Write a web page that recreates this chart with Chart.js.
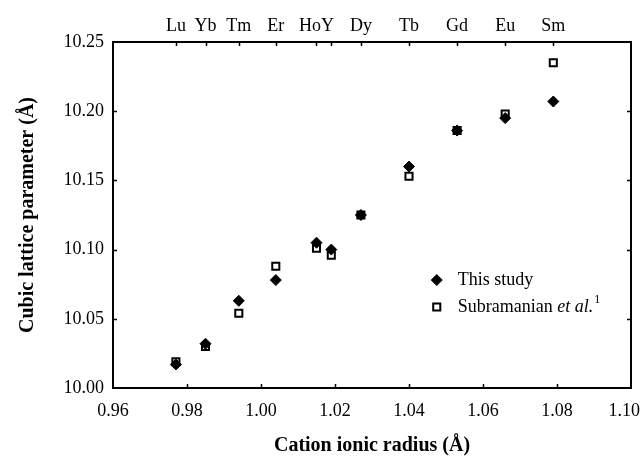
<!DOCTYPE html>
<html>
<head>
<meta charset="utf-8">
<script src="https://cdn.jsdelivr.net/npm/chart.js@4.4.0/dist/chart.umd.min.js"></script>
<style>
  html, body { margin: 0; padding: 0; background: #fff; }
  canvas { display: block; }
</style>
</head>
<body>
<canvas id="grafico" width="644" height="461"></canvas>
<script>
// cations (top axis) and their ionic radius
var ions = ["Lu", "Yb", "Tm", "Er", "Ho", "Y", "Dy", "Tb", "Gd", "Eu", "Sm"];
var ionLabels = ["Lu", "Yb", "Tm", "Er", "HoY", "", "Dy", "Tb", "Gd", "Eu", "Sm"];
var radius = [0.977, 0.985, 0.994, 1.004, 1.015, 1.019, 1.027, 1.040, 1.053, 1.066, 1.079];

// lattice parameter (A)
var thisStudy = [10.017, 10.032, 10.063, 10.078, 10.105, 10.100, 10.125, 10.160, 10.186, 10.195, 10.207];
var subramanian = [10.019, 10.030, 10.054, 10.088, 10.101, 10.096, 10.125, 10.153, 10.186, 10.198, 10.235];

var xTicks = [0.96, 0.98, 1.00, 1.02, 1.04, 1.06, 1.08, 1.10];
var yTicks = [10.00, 10.05, 10.10, 10.15, 10.20, 10.25];

var fonte = "'Liberation Serif', 'Times New Roman', serif";
Chart.defaults.font.family = fonte;
Chart.defaults.color = '#000';

function pontos(serie) {
  return radius.map(function (r, i) { return { x: r, y: serie[i] }; });
}

// small inward tick marks on the four sides
var marcas = {
  id: 'marcas',
  afterDraw: function (chart) {
    var ctx = chart.ctx, a = chart.chartArea;
    var sx = chart.scales.x, sy = chart.scales.y;
    ctx.save();
    ctx.strokeStyle = '#000';
    ctx.lineWidth = 1.5;
    ctx.beginPath();
    xTicks.slice(1, -1).forEach(function (v) {
      var px = Math.round(sx.getPixelForValue(v)) + 0.5;
      ctx.moveTo(px, a.bottom); ctx.lineTo(px, a.bottom - 4);
    });
    radius.forEach(function (v) {
      var px = Math.round(sx.getPixelForValue(v)) + 0.5;
      ctx.moveTo(px, a.top); ctx.lineTo(px, a.top + 4);
    });
    yTicks.slice(1, -1).forEach(function (v) {
      var py = Math.round(sy.getPixelForValue(v)) + 0.5;
      ctx.moveTo(a.left, py); ctx.lineTo(a.left + 4, py);
      ctx.moveTo(a.right, py); ctx.lineTo(a.right - 4, py);
    });
    ctx.stroke();
    ctx.restore();
  }
};

// legend inside the plot
var legendaX = 1.0475;
var legendaY = [10.078, 10.0585];
var legenda = {
  id: 'legenda',
  afterDraw: function (chart) {
    var ctx = chart.ctx;
    var sx = chart.scales.x, sy = chart.scales.y;
    var x = sx.getPixelForValue(legendaX);
    ctx.save();
    chart.data.datasets.forEach(function (ds, i) {
      var y = sy.getPixelForValue(legendaY[i]);
      ctx.fillStyle = ds.backgroundColor;
      ctx.strokeStyle = ds.borderColor;
      ctx.lineWidth = ds.borderWidth;
      Chart.helpers.drawPoint(ctx, {
        pointStyle: ds.pointStyle, radius: ds.pointRadius, rotation: 0, borderWidth: ds.borderWidth
      }, x, y);
      ctx.fillStyle = '#000';
      ctx.textBaseline = 'middle';
      ctx.textAlign = 'left';
      var tx = x + 21;
      if (i === 0) {
        ctx.font = "18px " + fonte;
        ctx.fillText("This study", tx, y);
      } else {
        ctx.font = "18px " + fonte;
        ctx.fillText("Subramanian ", tx, y);
        tx += ctx.measureText("Subramanian ").width;
        ctx.font = "italic 18px " + fonte;
        ctx.fillText("et al.", tx, y);
        tx += ctx.measureText("et al.").width + 1;
        ctx.font = "12px " + fonte;
        ctx.fillText("1", tx, y - 7);
      }
    });
    ctx.restore();
  }
};

new Chart(document.getElementById("grafico"), {
  type: "scatter",
  data: {
    datasets: [
      {
        label: "This study",
        data: pontos(thisStudy),
        pointStyle: "rectRot",
        pointRadius: 5.5,
        backgroundColor: "#000",
        borderColor: "#000",
        borderWidth: 1,
        order: 0
      },
      {
        label: "Subramanian et al.",
        data: pontos(subramanian),
        pointStyle: "rect",
        pointRadius: 5,
        backgroundColor: "rgba(0,0,0,0)",
        borderColor: "#000",
        borderWidth: 2,
        order: 1
      }
    ]
  },
  options: {
    responsive: false,
    animation: false,
    devicePixelRatio: 1,
    layout: { padding: 0 },
    plugins: {
      legend: { display: false },
      tooltip: { enabled: false }
    },
    scales: {
      x: {
        type: "linear",
        position: "bottom",
        min: 0.96,
        max: 1.10,
        afterBuildTicks: function (s) { s.ticks = xTicks.map(function (v) { return { value: v }; }); },
        ticks: {
          autoSkip: false, maxRotation: 0, padding: 12,
          font: { size: 18 },
          // last label pushed a little left so it stays inside the canvas
          callback: function (v, i) {
            return i === xTicks.length - 1 ? v.toFixed(2) + "\u00A0\u00A0\u00A0" : v.toFixed(2);
          }
        },
        grid: { display: false, drawTicks: false },
        border: { display: true, color: "#000", width: 2 },
        title: {
          display: true,
          text: "Cation ionic radius (\u00C5)",
          font: { size: 20, weight: "bold" },
          padding: { top: 0, bottom: 3 }
        },
        afterFit: function (s) { s.height = 73; s.paddingLeft = 0; s.paddingRight = 0; }
      },
      x2: {
        type: "linear",
        position: "top",
        min: 0.96,
        max: 1.10,
        afterBuildTicks: function (s) { s.ticks = radius.map(function (v) { return { value: v }; }); },
        ticks: {
          autoSkip: false, maxRotation: 0, padding: 5,
          font: { size: 18 },
          callback: function (v, i) { return ionLabels[i]; }
        },
        grid: { display: false, drawTicks: false },
        border: { display: true, color: "#000", width: 2 },
        afterFit: function (s) { s.height = 42; s.paddingLeft = 0; s.paddingRight = 0; }
      },
      y: {
        type: "linear",
        position: "left",
        min: 10.00,
        max: 10.25,
        afterBuildTicks: function (s) { s.ticks = yTicks.map(function (v) { return { value: v }; }); },
        ticks: {
          padding: 9,
          font: { size: 18 },
          callback: function (v) { return v.toFixed(2); }
        },
        grid: { display: false, drawTicks: false },
        border: { display: true, color: "#000", width: 2 },
        title: {
          display: true,
          text: "Cubic lattice parameter (\u00C5)",
          font: { size: 20, weight: "bold" },
          padding: { top: 16, bottom: 0 }
        },
        afterFit: function (s) { s.width = 113; s.paddingTop = 0; s.paddingBottom = 0; }
      },
      y2: {
        type: "linear",
        position: "right",
        min: 10.00,
        max: 10.25,
        ticks: { display: false },
        grid: { display: false, drawTicks: false },
        border: { display: true, color: "#000", width: 2 },
        afterFit: function (s) { s.width = 13; s.paddingTop = 0; s.paddingBottom = 0; }
      }
    }
  },
  plugins: [marcas, legenda]
});
</script>
</body>
</html>
